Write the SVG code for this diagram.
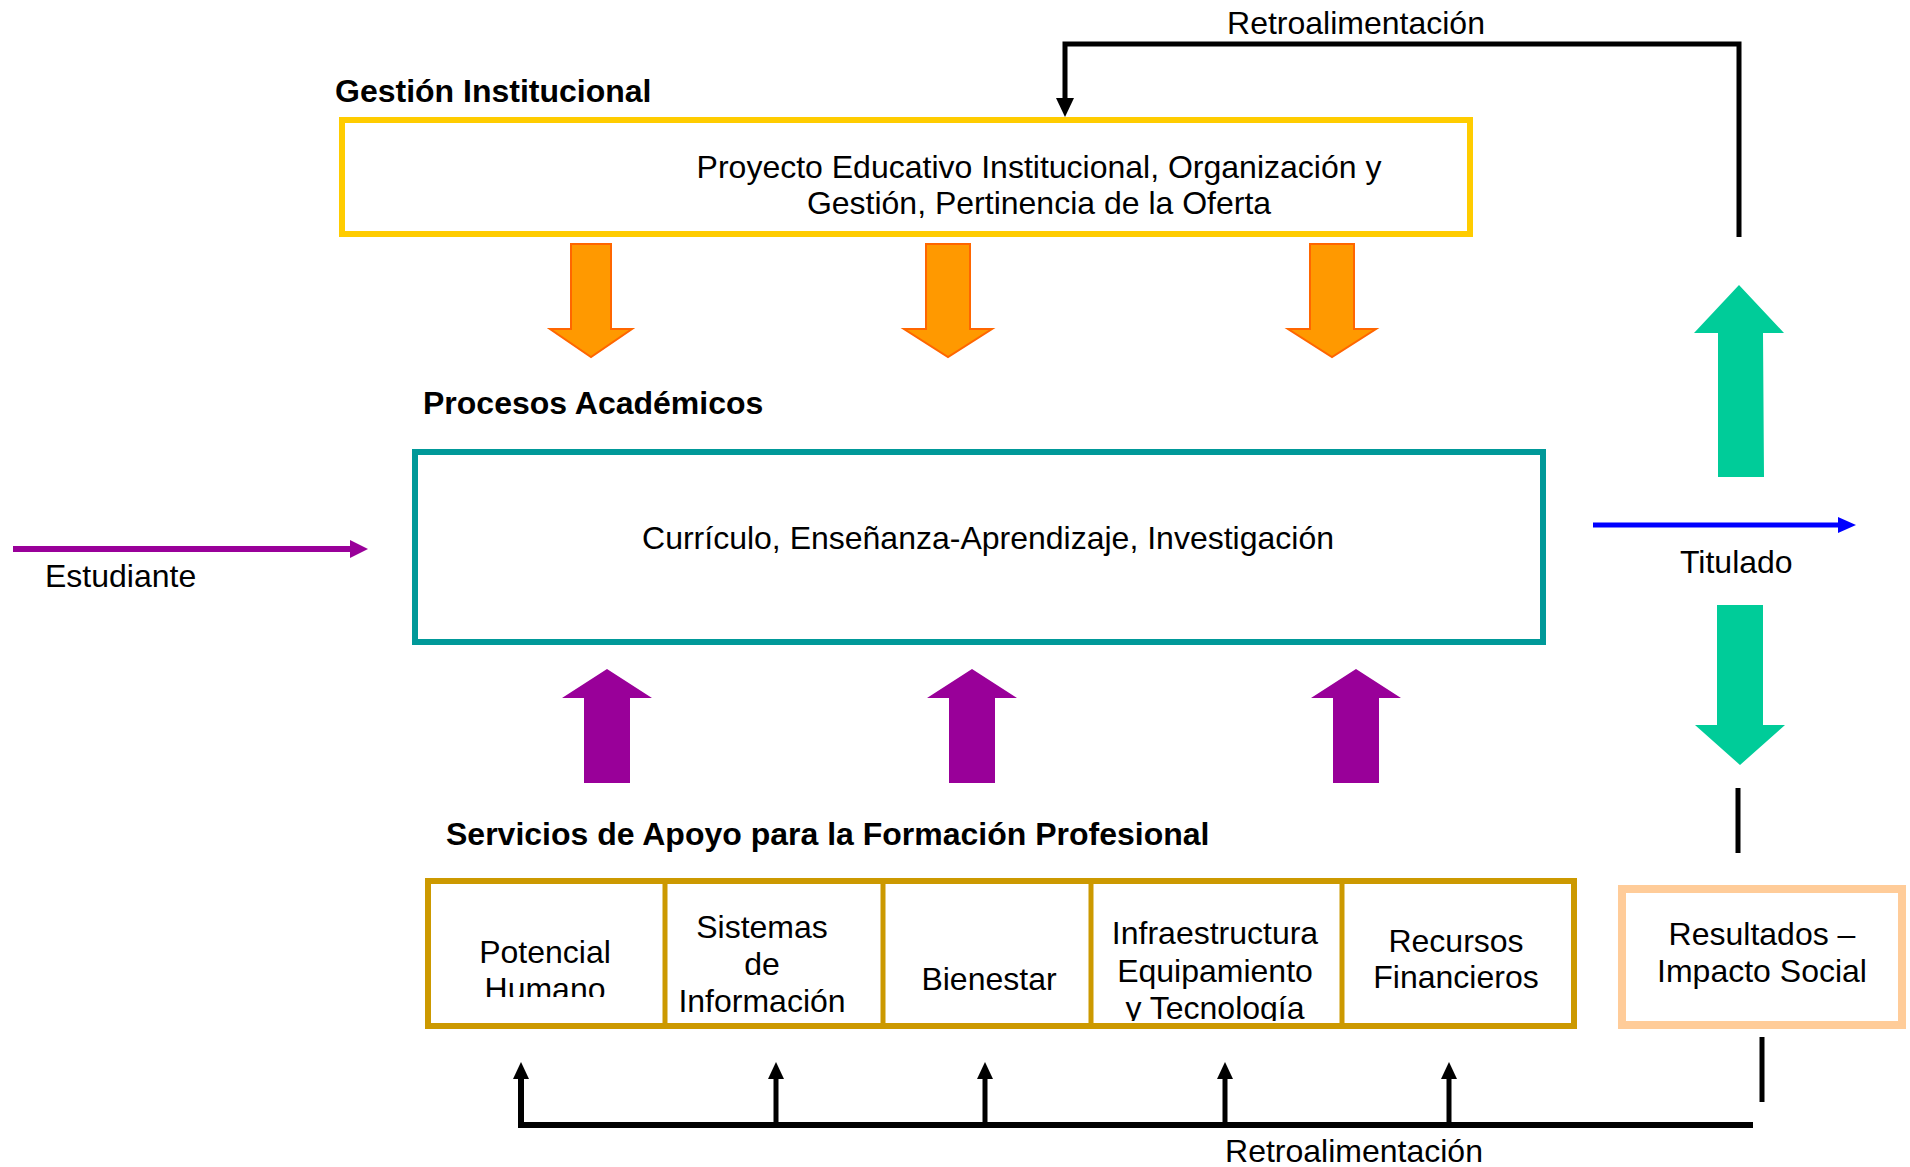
<svg xmlns="http://www.w3.org/2000/svg" width="1910" height="1167" viewBox="0 0 1910 1167">
<style>
text{font-family:"Liberation Sans",Arial,sans-serif;font-size:32px;fill:#000}
.b{font-weight:bold}
.m{text-anchor:middle}
.ln{stroke:#000;fill:none}
</style>
<defs>
<marker id="ah" markerUnits="userSpaceOnUse" markerWidth="20" markerHeight="20" viewBox="0 0 20 20" refX="10" refY="18" orient="auto-start-reverse">
<path d="M2,0 L18,0 L10,18 Z" fill="#000"/>
</marker>
<clipPath id="c1"><rect x="428" y="881" width="237" height="116"/></clipPath>
<clipPath id="c4"><rect x="1091" y="881" width="251" height="140"/></clipPath>
</defs>
<rect width="1910" height="1167" fill="#fff"/>

<g id="gestion">
<text class="b" x="335" y="102">Gestión Institucional</text>
<rect x="342" y="120" width="1128" height="114" fill="#fff" stroke="#FFCC00" stroke-width="6"/>
<text class="m" x="1039" y="178">Proyecto Educativo Institucional, Organización y</text>
<text class="m" x="1039" y="214">Gestión, Pertinencia de la Oferta</text>
</g>

<g id="procesos">
<text class="b" x="423" y="414">Procesos Académicos</text>
<rect x="415" y="452" width="1128" height="190" fill="#fff" stroke="#009999" stroke-width="6"/>
<text class="m" x="988" y="549">Currículo, Enseñanza-Aprendizaje, Investigación</text>
</g>

<g id="servicios">
<text class="b" x="446" y="845">Servicios de Apoyo para la Formación Profesional</text>
<rect x="428" y="881" width="1146" height="145" fill="#fff" stroke="#CC9900" stroke-width="6"/>
<g stroke="#CC9900" stroke-width="5">
<line x1="665" y1="884" x2="665" y2="1026"/>
<line x1="883" y1="884" x2="883" y2="1026"/>
<line x1="1091" y1="884" x2="1091" y2="1026"/>
<line x1="1342" y1="884" x2="1342" y2="1026"/>
</g>
</g>
<g id="potencial" clip-path="url(#c1)">
<text class="m" x="545" y="963">Potencial</text>
<text class="m" x="545" y="1000">Humano</text>
</g>
<g id="sistemas">
<text class="m" x="762" y="938">Sistemas</text>
<text class="m" x="762" y="975">de</text>
<text class="m" x="762" y="1012">Información</text>
</g>
<g id="bienestar">
<text class="m" x="989" y="990">Bienestar</text>
</g>
<g id="infraestructura" clip-path="url(#c4)">
<text class="m" x="1215" y="944">Infraestructura</text>
<text class="m" x="1215" y="982">Equipamiento</text>
<text class="m" x="1215" y="1019">y Tecnología</text>
</g>
<g id="recursos">
<text class="m" x="1456" y="952">Recursos</text>
<text class="m" x="1456" y="988">Financieros</text>
</g>

<g id="resultados">
<rect x="1622" y="889" width="280" height="136" fill="#fff" stroke="#FFCC99" stroke-width="8"/>
<text class="m" x="1762" y="945">Resultados –</text>
<text class="m" x="1762" y="982">Impacto Social</text>
</g>

<g id="estudiante">
<text x="45" y="587">Estudiante</text>
</g>
<g id="titulado">
<text x="1680" y="573">Titulado</text>
</g>

<g id="connectors">
<!-- orange down arrows -->
<g fill="#FF9900" stroke="#FF6600" stroke-width="2">
<polygon points="571,244 611,244 611,329 632,329 591,357 550,329 571,329"/>
<polygon points="926,244 970,244 970,329 992,329 948,357 904,329 926,329"/>
<polygon points="1310,244 1354,244 1354,329 1376,329 1332,357 1288,329 1310,329"/>
</g>
<!-- purple up arrows -->
<g fill="#990099">
<polygon points="607,669 652,698 630,698 630,783 584,783 584,698 562,698"/>
<polygon points="972,669 1017,698 995,698 995,783 949,783 949,698 927,698"/>
<polygon points="1356,669 1401,698 1379,698 1379,783 1333,783 1333,698 1311,698"/>
</g>
<!-- green arrows -->
<g fill="#00CC99">
<polygon points="1739,285 1784,333 1763,333 1764,477 1718,477 1718,333 1694,333"/>
<polygon points="1717,605 1763,605 1763,725 1785,725 1740,765 1695,725 1717,725"/>
</g>
<!-- Estudiante arrow -->
<line x1="13" y1="549" x2="353" y2="549" stroke="#990099" stroke-width="6"/>
<polygon points="350,540 368,549 350,558" fill="#990099"/>
<!-- Titulado arrow -->
<line x1="1593" y1="525" x2="1841" y2="525" stroke="#0000FF" stroke-width="5"/>
<polygon points="1838,517 1856,525 1838,533" fill="#0000FF"/>
<!-- top feedback -->
<text class="m" x="1356" y="34">Retroalimentación</text>
<polyline class="ln" points="1739,237 1739,44 1065,44 1065,100" stroke-width="5"/>
<polygon points="1056,98 1074,98 1065,117" fill="#000"/>
<!-- right black segments -->
<line class="ln" x1="1738" y1="788" x2="1738" y2="853" stroke-width="5"/>
<line class="ln" x1="1762" y1="1037" x2="1762" y2="1102" stroke-width="5"/>
<!-- bottom feedback -->
<polyline class="ln" points="1753,1125 521,1125 521,1075" stroke-width="6"/>
<line class="ln" x1="776" y1="1125" x2="776" y2="1075" stroke-width="5"/>
<line class="ln" x1="985" y1="1125" x2="985" y2="1075" stroke-width="5"/>
<line class="ln" x1="1225" y1="1125" x2="1225" y2="1075" stroke-width="5"/>
<line class="ln" x1="1449" y1="1125" x2="1449" y2="1075" stroke-width="5"/>
<g fill="#000">
<polygon points="521,1062 529,1079 513,1079"/>
<polygon points="776,1062 784,1079 768,1079"/>
<polygon points="985,1062 993,1079 977,1079"/>
<polygon points="1225,1062 1233,1079 1217,1079"/>
<polygon points="1449,1062 1457,1079 1441,1079"/>
</g>
<text class="m" x="1354" y="1162">Retroalimentación</text>
</g>
</svg>
